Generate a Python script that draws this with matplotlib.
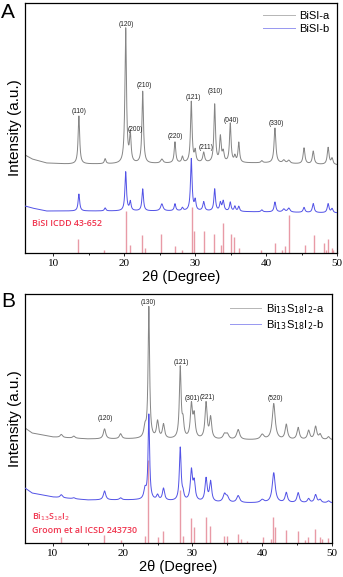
import numpy as np
import matplotlib
matplotlib.use("Agg")
import matplotlib.pyplot as plt
from matplotlib.ticker import MultipleLocator

plt.rcParams["font.family"] = ["Liberation Sans", "DejaVu Sans"]

# ---------- panel A : BiSI ----------
a_base_x = [6, 7, 9, 12, 20, 30, 40, 50]
a_base_a = [98, 94, 90, 89, 89, 90, 90, 88]
a_base_b = [47, 45, 42, 42, 42, 42, 41, 40]

a_pk_pos = [13.6, 17.3, 20.2, 20.85, 22.6, 25.3, 27.15, 28.2, 29.45, 30.0, 31.2, 32.75,
            33.55, 33.95, 34.95, 35.6, 36.15, 39.4, 41.25, 42.5, 43.2, 45.35, 46.65, 48.75, 49.3]
a_pk_a = [48, 5, 135, 28, 72, 4, 21, 6, 61, 11, 10, 58,
          25, 10, 39, 6, 20, 2, 35, 3, 3, 16, 13, 17, 6]
a_pk_b = [17, 3, 39, 9, 22, 7, 7, 3, 52, 10, 9, 22,
          8, 10, 9, 5, 5, 2, 10, 3, 4, 5, 9, 9, 4]
a_pk_w = [0.13, 0.13, 0.13, 0.13, 0.13, 0.2, 0.13, 0.13, 0.13, 0.13, 0.15, 0.13,
          0.13, 0.15, 0.13, 0.13, 0.13, 0.15, 0.15, 0.2, 0.2, 0.15, 0.15, 0.15, 0.15]

a_ref_pos = [13.5, 17.2, 20.2, 20.8, 22.5, 22.9, 25.2, 27.1, 28.1, 29.5, 29.9, 31.2, 32.7,
             33.7, 33.9, 35.0, 35.5, 36.2, 39.3, 41.3, 42.3, 42.6, 43.3, 45.5, 46.7,
             48.1, 48.5, 48.8, 49.3, 49.5]
a_ref_h = [14, 3, 42, 8, 18, 5, 19, 7, 3, 46, 22, 22, 19,
           8, 30, 19, 16, 5, 3, 10, 3, 7, 38, 8, 18,
           10, 3, 14, 5, 3]

a_hkl = ["(110)", "(120)", "(210)", "(200)", "(220)", "(121)", "(211)", "(310)", "(040)", "(330)"]
a_hkl_x = [13.6, 20.3, 22.8, 21.5, 27.2, 29.7, 31.5, 32.9, 35.1, 41.4]
a_hkl_y = [142, 229, 168, 124, 117, 156, 106, 162, 133, 130]

# ---------- panel B : Bi13S18I2 ----------
b_base_x = [6, 7, 10, 15, 22, 35, 50]
b_base_a = [115, 110, 106, 104, 104, 103, 103]
b_base_b = [55, 50, 46, 43, 43, 40, 40]

b_pk_pos = [11.2, 13.0, 17.4, 19.7, 23.2, 23.75, 25.0, 25.85, 28.25, 28.65, 29.85, 30.25,
            31.95, 32.6, 34.6, 35.0, 36.55, 40.0, 41.65, 43.45, 45.15, 46.65, 47.65, 48.3, 49.5]
b_pk_a = [3, 2, 10, 5, 10, 131, 17, 14, 71, 15, 33, 22,
          36, 21, 5, 5, 10, 5, 36, 15, 12, 9, 13, 5, 3]
b_pk_b = [3, 1, 9, 2, 10, 85, 5, 12, 53, 6, 30, 18,
          23, 20, 8, 5, 7, 3, 30, 10, 10, 4, 8, 3, 2]
b_pk_w = [0.2, 0.2, 0.2, 0.2, 0.2, 0.13, 0.18, 0.18, 0.15, 0.15, 0.18, 0.18,
          0.18, 0.18, 0.25, 0.25, 0.25, 0.3, 0.25, 0.2, 0.2, 0.2, 0.2, 0.2, 0.2]

b_ref_pos = [11.2, 17.3, 19.7, 23.2, 23.7, 25.0, 25.8, 28.2, 28.6, 29.8, 30.2, 31.9, 32.5,
             34.5, 34.9, 36.5, 36.9, 37.8, 40.1, 41.3, 41.6, 41.8, 43.4, 45.1, 46.1,
             46.6, 47.6, 48.3, 48.5, 49.4]
b_ref_h = [6, 8, 3, 7, 83, 6, 12, 53, 7, 25, 16, 26, 17,
           7, 7, 9, 4, 2, 6, 4, 26, 16, 13, 12, 3,
           6, 14, 6, 4, 5]

b_hkl = ["(120)", "(130)", "(121)", "(301)", "(221)", "(520)"]
b_hkl_x = [17.5, 23.7, 28.4, 30.0, 32.2, 41.9]
b_hkl_y = [124, 240, 180, 144, 145, 144]

GRAY = "#858585"
BLUE = "#5252e6"
PINK = "#e89aa6"
RED = "#f0344e"


def pattern(x, base_x, base_y, pos, amp, wid):
    y = np.interp(x, base_x, base_y)
    for p, h, w in zip(pos, amp, wid):
        y = y + h / (1 + ((x - p) / w) ** 2)
    return y


def draw_panel(ax, base_x, base_a, base_b, pos, amp_a, amp_b, wid,
               ref_pos, ref_h, hkl, hkl_x, hkl_y, labels, ylim):
    x = np.linspace(6, 50, 4000)
    ax.vlines(ref_pos, 0, ref_h, colors=PINK, lw=1.0, zorder=1)
    ax.plot(x, pattern(x, base_x, base_a, pos, amp_a, wid), color=GRAY, lw=0.7, label=labels[0], zorder=2)
    ax.plot(x, pattern(x, base_x, base_b, pos, amp_b, wid), color=BLUE, lw=0.7, label=labels[1], zorder=3)
    for t, tx, ty in zip(hkl, hkl_x, hkl_y):
        ax.text(tx, ty, t, fontsize=4.8, ha="center", va="center", color="#222222")
    ax.set_xlim(6, 50)
    ax.set_ylim(0, ylim)
    ax.set_yticks([])
    ax.set_xticks([10, 20, 30, 40, 50])
    ax.xaxis.set_minor_locator(MultipleLocator(5))
    ax.tick_params(axis="x", which="major", direction="out", length=2.5, width=0.6,
                   labelsize=8, pad=2)
    ax.tick_params(axis="x", which="minor", direction="out", length=1.5, width=0.6)
    for lab in ax.get_xticklabels():
        lab.set_fontfamily("Liberation Serif")
    for sp in ax.spines.values():
        sp.set_linewidth(0.9)
    ax.set_xlabel("2θ (Degree)", fontsize=10.5, labelpad=1)
    ax.set_ylabel("Intensity (a.u.)", fontsize=11, labelpad=2)
    leg = ax.legend(loc="upper right", frameon=False, fontsize=8, handlelength=2.8,
                    handletextpad=0.4, borderaxespad=0.3, labelspacing=0.25)
    for line in leg.get_lines():
        line.set_alpha(0.6)


fig = plt.figure(figsize=(3.43, 5.77), dpi=100)
axA = fig.add_axes([0.0729, 0.5615, 0.9096, 0.4333])
axB = fig.add_axes([0.0729, 0.0589, 0.895, 0.4316])

draw_panel(axA, a_base_x, a_base_a, a_base_b, a_pk_pos, a_pk_a, a_pk_b, a_pk_w,
           a_ref_pos, a_ref_h, a_hkl, a_hkl_x, a_hkl_y, ["BiSI-a", "BiSI-b"], 250)
axA.text(7.0, 30, "BiSI ICDD 43-652", color=RED, fontsize=6.4, va="center",
         fontweight="semibold", family=["Open Sans", "DejaVu Sans"])

draw_panel(axB, b_base_x, b_base_a, b_base_b, b_pk_pos, b_pk_a, b_pk_b, b_pk_w,
           b_ref_pos, b_ref_h, b_hkl, b_hkl_x, b_hkl_y,
           ["Bi$_{13}$S$_{18}$I$_2$-a", "Bi$_{13}$S$_{18}$I$_2$-b"], 249)
axB.text(7.0, 26, "Bi$_{13}$S$_{18}$I$_2$", color=RED, fontsize=6.4, va="center",
         fontweight="semibold", family=["Open Sans", "DejaVu Sans"])
axB.text(7.0, 13, "Groom et al ICSD 243730", color=RED, fontsize=6.4, va="center",
         fontweight="semibold", family=["Open Sans", "DejaVu Sans"])

fig.text(0.003, 0.978, "A", fontsize=15, va="center")
fig.text(0.003, 0.478, "B", fontsize=15, va="center")

fig.savefig("out.png", dpi=100)
